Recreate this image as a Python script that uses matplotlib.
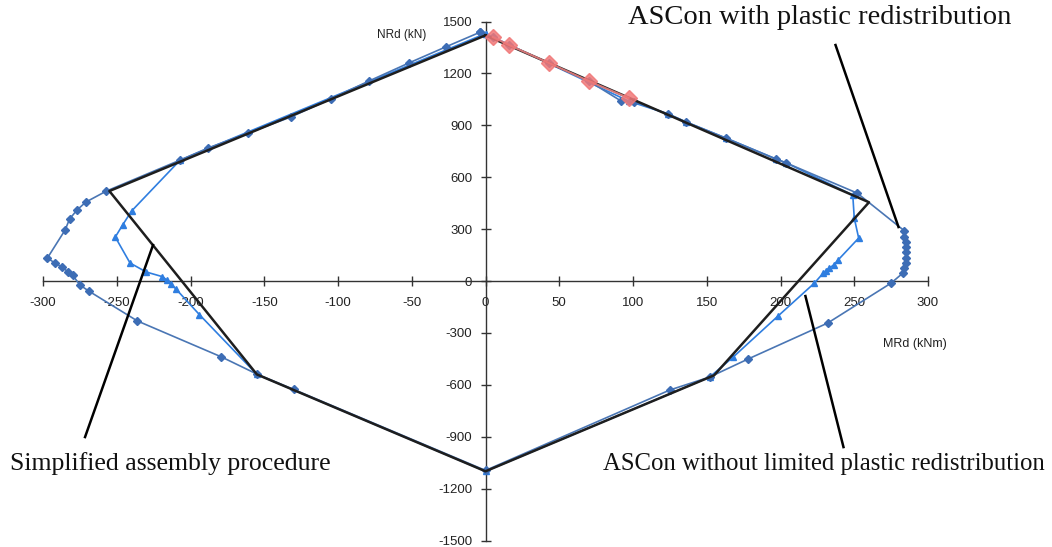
import matplotlib
matplotlib.use("Agg")
import matplotlib.pyplot as plt

plt.rcParams['axes.unicode_minus'] = False
plt.rcParams['font.family'] = ['Liberation Sans', 'DejaVu Sans']

# Simplified assembly procedure (black polygon)
simp_M = [0, -255, -155, 0, 155, 260, 0]
simp_N = [1420, 520, -540, -1100, -545, 455, 1420]

# ASCon with plastic redistribution (diamonds, outer)
plast_M = [-4, -27, -52, -79, -105, -132, -161, -188, -207, -257, -271, -277, -282, -285,
           -297, -292, -287, -283, -280, -275, -269, -236, -179, -155, -130, 0,
           125, 152, 178, 232, 275, 283, 284, 285, 285, 285, 285, 285, 284, 284,
           252, 204, 197, 163, 136, 124, 101, 92, 70, 43, 16, 5, -4]
plast_N = [1437, 1353, 1260, 1156, 1052, 948, 855, 769, 699, 520, 456, 410, 358, 295,
           133, 104, 81, 52, 35, -23, -58, -231, -439, -538, -627, -1095,
           -630, -555, -451, -243, -12, 46, 75, 105, 135, 165, 195, 225, 255, 290,
           508, 682, 705, 826, 919, 965, 1035, 1040, 1156, 1260, 1364, 1410, 1437]

# ASCon without limited plastic redistribution (triangles, inner)
lim_M = [0, -207, -240, -246, -251, -241, -230, -219, -216, -213, -210, -194, -155, 0,
         152, 168, 198, 223, 229, 231, 233, 236, 239, 253, 250, 249, 204, 197, 163, 136, 124, 97, 0]
lim_N = [1430, 699, 404, 324, 254, 104, 52, 25, 5, -20, -45, -194, -540, -1100,
         -555, -439, -205, -12, 46, 60, 75, 92, 121, 248, 364, 497, 682, 705, 826, 919, 965, 1040, 1430]

# Test points (red diamonds)
test_M = [5, 16, 43, 70, 97]
test_N = [1410, 1364, 1260, 1156, 1058]

x_ticks = list(range(-300, 301, 50))
y_ticks = list(range(-1500, 1501, 300))

fig = plt.figure(figsize=(10.52, 5.47), dpi=100)
ax = fig.add_axes([43/1052, 6.5/547, 885/1052, 519/547])
ax.set_xlim(-300, 300)
ax.set_ylim(-1500, 1500)

ax.plot(lim_M, lim_N, color='#2f7ee0', lw=1.2, marker='^', ms=4.5,
        mfc='#2f7ee0', mec='#2f7ee0', clip_on=False, zorder=3)
ax.plot(plast_M, plast_N, color='#4a76b4', lw=1.2, marker='D', ms=4,
        mfc='#3d6db5', mec='#3d6db5', clip_on=False, zorder=3)
ax.plot(simp_M, simp_N, color='#1e1e1e', lw=1.8, clip_on=False, zorder=4)
ax.plot(test_M, test_N, color='#f08585', lw=1.5, marker='D', ms=8,
        mfc='#f07878', mec='#f07878', alpha=0.85, clip_on=False, zorder=5)

for s in ['top', 'right']:
    ax.spines[s].set_visible(False)
ax.spines['left'].set_position(('data', 0))
ax.spines['bottom'].set_position(('data', 0))
for s in ['left', 'bottom']:
    ax.spines[s].set_color('#333333')
    ax.spines[s].set_linewidth(1.0)
ax.set_xticks(x_ticks)
ax.set_yticks(y_ticks)
ax.set_xticklabels([str(v) for v in x_ticks])
ax.set_yticklabels([str(v) for v in y_ticks])
ax.tick_params(direction='inout', length=7, width=1, color='#333333',
               labelsize=9.5, labelcolor='#222222')
ax.tick_params(axis='x', pad=8)
ax.tick_params(axis='y', pad=6)
ax.patch.set_alpha(0)

ax.text(-56.6, 1422, 'NRd (kN)', fontsize=8.5, ha='center', va='center', color='#222222')
ax.text(291, -364, 'MRd (kNm)', fontsize=9, ha='center', va='center', color='#222222',
        clip_on=False)

# leader lines
ax.plot([237.3, 280], [1364, 312], color='black', lw=1.8, clip_on=False, zorder=6)
ax.plot([-271.5, -225.4], [-902, 208], color='black', lw=1.8, clip_on=False, zorder=6)
ax.plot([242.7, 216.9], [-960, -87], color='black', lw=1.8, clip_on=False, zorder=6)

serif = ['Liberation Serif', 'DejaVu Serif']
fig.text(628/1052, 1 - 18/547, 'ASCon with plastic redistribution', family=serif,
         fontsize=20.5, ha='left', va='center', color='#111111')
fig.text(10/1052, 1 - 464/547, 'Simplified assembly procedure', family=serif,
         fontsize=18.5, ha='left', va='center', color='#111111')
fig.text(1045/1052, 1 - 464/547, 'ASCon without limited plastic redistribution', family=serif,
         fontsize=17.8, ha='right', va='center', color='#111111')

fig.savefig('out.png', dpi=100)
